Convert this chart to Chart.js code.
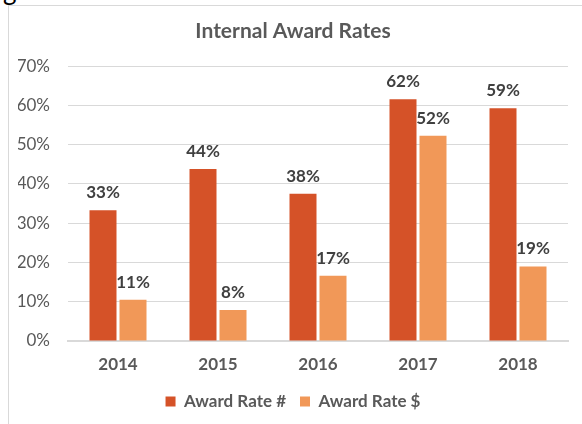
<!DOCTYPE html>
<html>
<head>
<meta charset="utf-8">
<script src="https://cdn.jsdelivr.net/npm/chart.js@4/dist/chart.umd.min.js"></script>
<style>
  body { margin: 0; background: #fff; width: 582px; height: 424px; overflow: hidden; position: relative; }
  #frame { position: absolute; left: 8px; top: 5px; width: 580px; height: 430px; border-left: 1px solid #d9d9d9; border-top: 1px solid #d9d9d9; }
  #stray { position: absolute; left: 3px; top: -26px; font: 26px Lato, sans-serif; color: #000; }
  #wrap { position: absolute; left: 9px; top: 6px; width: 573px; height: 418px; }
</style>
</head>
<body>
<div id="stray">g</div>
<div id="frame"></div>
<div id="wrap"><canvas id="chart"></canvas></div>
<script>
'use strict';

var years = ['2014', '2015', '2016', '2017', '2018'];
var rateCount = [33.3, 43.8, 37.5, 61.6, 59.3];
var rateDollar = [10.5, 7.9, 16.6, 52.3, 19.0];
var yTicks = [0, 10, 20, 30, 40, 50, 60, 70];

var fontName = 'Lato, "Open Sans", sans-serif';

// draws the % numbers above each bar
var barLabels = {
    id: 'barLabels',
    afterDatasetsDraw: function(chart) {
        var ctx = chart.ctx;
        ctx.save();
        ctx.font = 'bold 17px ' + fontName;
        ctx.fillStyle = '#404040';
        ctx.textAlign = 'center';
        ctx.textBaseline = 'alphabetic';
        chart.data.datasets.forEach(function(ds, i) {
            var meta = chart.getDatasetMeta(i);
            meta.data.forEach(function(bar, j) {
                ctx.fillText(Math.round(ds.data[j]) + '%', bar.x, bar.y - 12);
            });
        });
        ctx.restore();
    }
};

var ctx = document.getElementById('chart').getContext('2d');
var chart = new Chart(ctx, {
    type: 'bar',
    data: {
        labels: years,
        datasets: [
            {
                label: 'Award Rate #',
                data: rateCount,
                backgroundColor: '#d55228',
                borderWidth: 0
            },
            {
                label: 'Award Rate $',
                data: rateDollar,
                backgroundColor: '#f19858',
                borderWidth: 0
            }
        ]
    },
    options: {
        responsive: true,
        maintainAspectRatio: false,
        animation: false,
        layout: { padding: { left: 9, right: 14, top: 0, bottom: 4 } },
        datasets: { bar: { categoryPercentage: 0.6, barPercentage: 0.9 } },
        plugins: {
            title: {
                display: true,
                text: 'Internal Award Rates',
                color: '#595959',
                font: { family: fontName, size: 21, weight: 'bold' },
                padding: { top: 13, bottom: 22 }
            },
            legend: {
                position: 'bottom',
                labels: {
                    boxWidth: 10,
                    boxHeight: 10,
                    color: '#595959',
                    font: { family: fontName, size: 17, weight: 'bold' },
                    padding: 14
                }
            },
            tooltip: { enabled: false }
        },
        scales: {
            x: {
                grid: { display: false, drawTicks: false },
                border: { color: '#d9d9d9', width: 2 },
                afterFit: function(axis) { axis.height = 38; },
                ticks: {
                    color: '#595959',
                    font: { family: fontName, size: 17, weight: 'bold' },
                    padding: 13
                }
            },
            y: {
                min: 0,
                max: 70,
                afterBuildTicks: function(axis) {
                    axis.ticks = yTicks.map(function(v) { return { value: v }; });
                },
                afterFit: function(axis) { axis.width = 50; },
                grid: { color: '#d9d9d9', drawTicks: false },
                border: { display: false },
                ticks: {
                    color: '#595959',
                    font: { family: fontName, size: 17 },
                    padding: 18,
                    callback: function(v) { return v + '%'; }
                }
            }
        }
    },
    plugins: [barLabels]
});
</script>
</body>
</html>
